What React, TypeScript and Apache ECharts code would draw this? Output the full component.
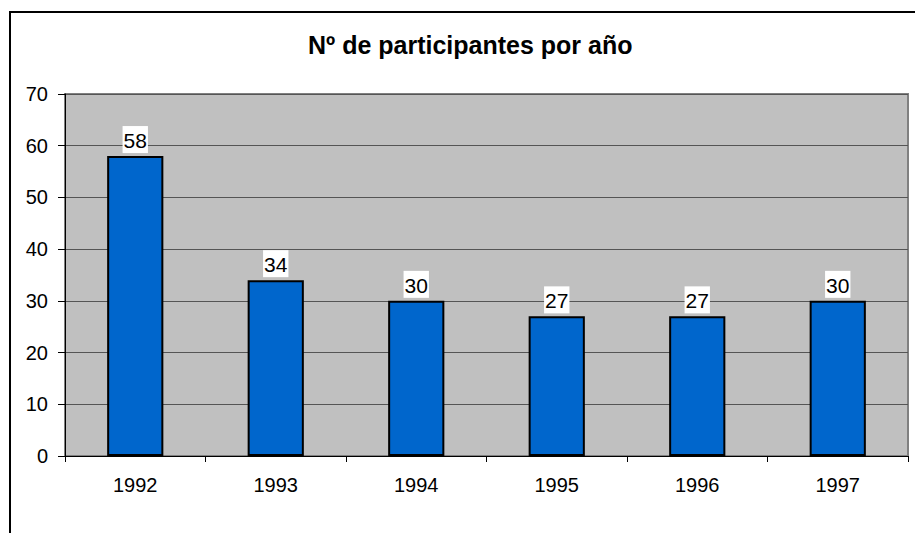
import React, { useEffect, useRef } from "react";
import * as echarts from "echarts";

const categories = ["1992", "1993", "1994", "1995", "1996", "1997"];
const participantes = [58, 34, 30, 27, 27, 30];
const yTicks = { min: 0, max: 70, interval: 10 };
const titleText = "Nº de participantes por año";

export default function App() {
  const ref = useRef<HTMLDivElement>(null);
  useEffect(() => {
    if (!ref.current) return;
    const chart = echarts.init(ref.current, null, { renderer: "svg" });
    const font = "Arial, 'Liberation Sans', sans-serif";
    chart.setOption({
      animation: false,
      backgroundColor: "#ffffff",
      textStyle: { fontFamily: font },
      title: {
        text: titleText,
        left: 303,
        top: 27,
        textStyle: { fontFamily: font, fontSize: 25, fontWeight: "bold", color: "#000" },
      },
      graphic: [
        {
          type: "rect",
          shape: { x: 10, y: 12, width: 1000, height: 1000 },
          style: { fill: "none", stroke: "#000", lineWidth: 2 },
          silent: true,
          z: -10,
        },
      ],
      grid: {
        left: 65,
        top: 94,
        right: 7,
        bottom: 77,
        show: true,
        backgroundColor: "#C0C0C0",
        borderColor: "#808080",
        borderWidth: 2,
      },
      xAxis: {
        type: "category",
        data: categories,
        axisLine: { show: true, lineStyle: { color: "#000", width: 1 } },
        axisTick: { show: true, alignWithLabel: false, length: 6, lineStyle: { color: "#000" } },
        axisLabel: { color: "#000", fontSize: 20, fontFamily: font, margin: 19 },
      },
      yAxis: {
        type: "value",
        min: yTicks.min,
        max: yTicks.max,
        interval: yTicks.interval,
        axisLine: { show: true, lineStyle: { color: "#000", width: 1 } },
        axisTick: { show: true, length: 7, lineStyle: { color: "#000" } },
        axisLabel: { color: "#000", fontSize: 20, fontFamily: font, margin: 17 },
        splitLine: { show: true, lineStyle: { color: "#555", width: 1 } },
      },
      series: [
        {
          type: "bar",
          data: participantes,
          barWidth: "40%",
          itemStyle: { color: "#0066CC", borderColor: "#000", borderWidth: 2 },
          label: {
            show: true,
            position: "top",
            distance: 3,
            color: "#000",
            fontSize: 21,
            fontFamily: font,
            backgroundColor: "#ffffff",
            padding: [4, 1, 2, 1],
          },
        },
      ],
    });
    return () => chart.dispose();
  }, []);
  return (
    <div
      ref={ref}
      style={{ position: "fixed", left: 0, top: 0, width: 915, height: 533 }}
    />
  );
}
